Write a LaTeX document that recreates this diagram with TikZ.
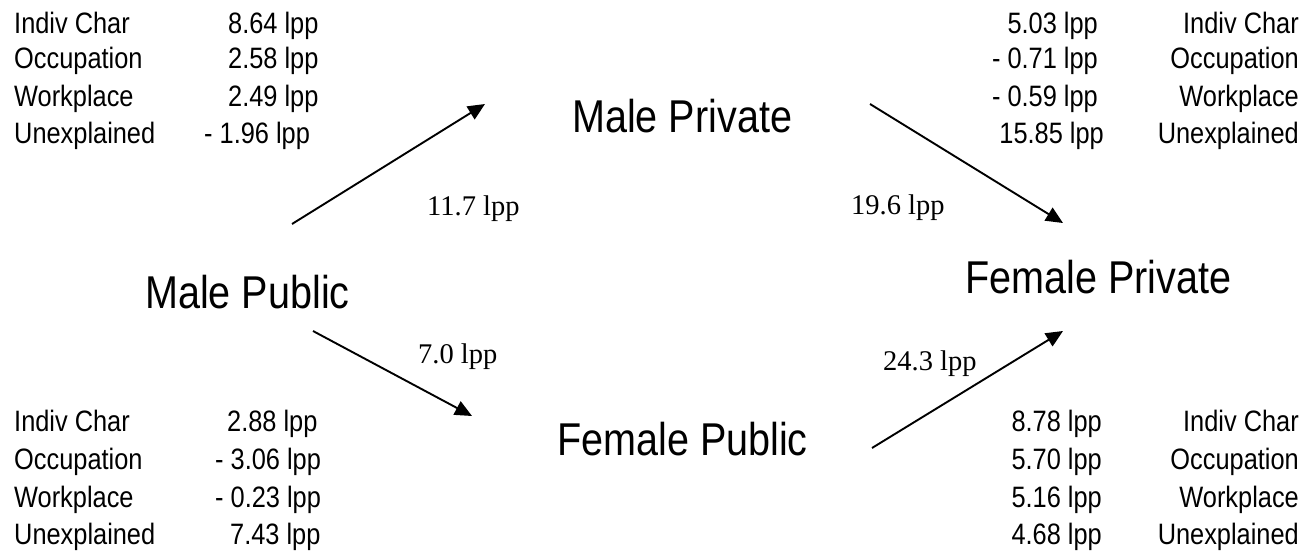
\documentclass[tikz,border=0pt]{standalone}
\usepackage{fontspec}
\setmainfont{Liberation Serif}
\newfontfamily\narrowsf[FakeStretch=0.86]{Liberation Sans}
\usepackage{tikz}
\usetikzlibrary{arrows.meta, positioning}

\begin{document}
\begin{tikzpicture}[x=1pt, y=-1pt, >={Triangle[length=17pt, width=15pt]}]
            \tikzset{group/.style={font=\narrowsf\fontsize{46}{50}\selectfont, inner sep=0pt},
                     lab/.style={font=\narrowsf\fontsize{29.5}{34}\selectfont, inner sep=0pt},
                     gap/.style={font=\fontsize{28.5}{32}\selectfont, inner sep=0pt},
                     flow/.style={->, line width=1.9pt}}
            \useasboundingbox (0,0) rectangle (1307,554);
            % groups
            \node[group, anchor=base west] (mpub) at (145,308) {Male Public};
            \node[group, anchor=base west] (mpriv) at (572,132) {Male Private};
            \node[group, anchor=base west] (fpub) at (557,455) {Female Public};
            \node[group, anchor=base west] (fpriv) at (965,293) {Female Private};
            % decomposition, male public -> male private
            \node[lab, anchor=base west] (a1) at (14,33) {Indiv Char};
            \node[lab, anchor=base west] (a2) at (14,68) {Occupation};
            \node[lab, anchor=base west] (a3) at (14,106) {Workplace};
            \node[lab, anchor=base west] (a4) at (14,143) {Unexplained};
            \node[lab, anchor=base west] (av1) at (228,33) {8.64 lpp};
            \node[lab, anchor=base west] (av2) at (228,68) {2.58 lpp};
            \node[lab, anchor=base west] (av3) at (228,106) {2.49 lpp};
            \node[lab, anchor=base west] (av4) at (204,143) {- 1.96 lpp};
            % decomposition, male private -> female private
            \node[lab, anchor=base east] (b1) at (1299,33) {Indiv Char};
            \node[lab, anchor=base east] (b2) at (1299,68) {Occupation};
            \node[lab, anchor=base east] (b3) at (1299,106) {Workplace};
            \node[lab, anchor=base east] (b4) at (1299,143) {Unexplained};
            \node[lab, anchor=base east] (bv1) at (1098,33) {5.03 lpp};
            \node[lab, anchor=base east] (bv2) at (1098,68) {- 0.71 lpp};
            \node[lab, anchor=base east] (bv3) at (1098,106) {- 0.59 lpp};
            \node[lab, anchor=base east] (bv4) at (1104,143) {15.85 lpp};
            % decomposition, male public -> female public
            \node[lab, anchor=base west] (c1) at (14,431) {Indiv Char};
            \node[lab, anchor=base west] (c2) at (14,469) {Occupation};
            \node[lab, anchor=base west] (c3) at (14,507) {Workplace};
            \node[lab, anchor=base west] (c4) at (14,544) {Unexplained};
            \node[lab, anchor=base west] (cv1) at (227,431) {2.88 lpp};
            \node[lab, anchor=base west] (cv2) at (215,469) {- 3.06 lpp};
            \node[lab, anchor=base west] (cv3) at (215,507) {- 0.23 lpp};
            \node[lab, anchor=base west] (cv4) at (230,544) {7.43 lpp};
            % decomposition, female public -> female private
            \node[lab, anchor=base east] (d1) at (1299,431) {Indiv Char};
            \node[lab, anchor=base east] (d2) at (1299,469) {Occupation};
            \node[lab, anchor=base east] (d3) at (1299,507) {Workplace};
            \node[lab, anchor=base east] (d4) at (1299,544) {Unexplained};
            \node[lab, anchor=base east] (dv1) at (1102,431) {8.78 lpp};
            \node[lab, anchor=base east] (dv2) at (1102,469) {5.70 lpp};
            \node[lab, anchor=base east] (dv3) at (1102,507) {5.16 lpp};
            \node[lab, anchor=base east] (dv4) at (1102,544) {4.68 lpp};
            % arrow ends
            \coordinate (mpub-up) at (292,224);
            \coordinate (mpriv-in) at (485,104);
            \coordinate (mpriv-out) at (870,104);
            \coordinate (fpriv-up) at (1063,223);
            \coordinate (mpub-down) at (313,331);
            \coordinate (fpub-in) at (472,416);
            \coordinate (fpub-out) at (872,448);
            \coordinate (fpriv-down) at (1063,331);
            % gaps
            \draw[flow] (mpub-up) -- (mpriv-in);
            \draw[flow] (mpriv-out) -- (fpriv-up);
            \draw[flow] (mpub-down) -- (fpub-in);
            \draw[flow] (fpub-out) -- (fpriv-down);
            \node[gap, anchor=base west] (g1) at (427,215) {11.7 lpp};
            \node[gap, anchor=base west] (g2) at (851,214) {19.6 lpp};
            \node[gap, anchor=base west] (g3) at (418,363) {7.0 lpp};
            \node[gap, anchor=base west] (g4) at (883,370) {24.3 lpp};
        \end{tikzpicture}
\end{document}
